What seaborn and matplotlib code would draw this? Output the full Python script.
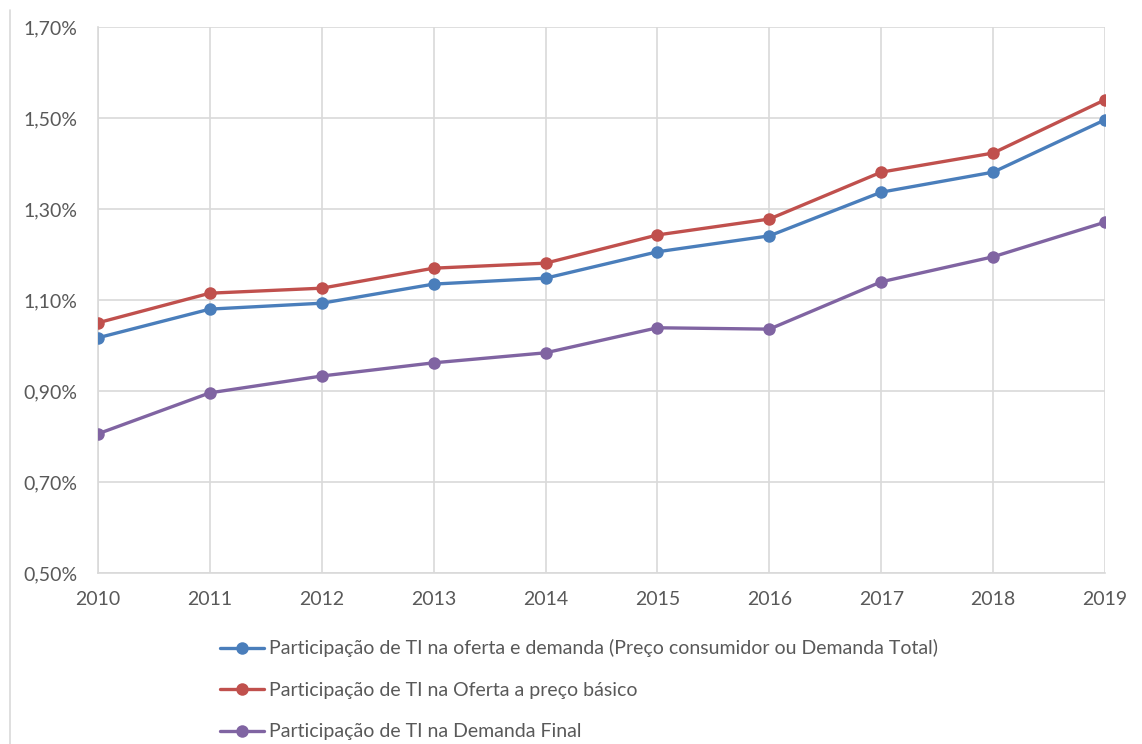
import pandas as pd
import matplotlib.pyplot as plt
import matplotlib.ticker as mticker
from matplotlib.lines import Line2D
import seaborn as sns

anos = [2010, 2011, 2012, 2013, 2014, 2015, 2016, 2017, 2018, 2019]

# valores em %
oferta_demanda = [1.017, 1.080, 1.093, 1.135, 1.148, 1.206, 1.241, 1.337, 1.381, 1.496]
oferta_basico = [1.050, 1.115, 1.126, 1.170, 1.181, 1.243, 1.278, 1.381, 1.423, 1.540]
demanda_final = [0.806, 0.896, 0.933, 0.962, 0.984, 1.039, 1.036, 1.140, 1.195, 1.271]

series = [
    'Participação de TI na oferta e demanda (Preço consumidor ou Demanda Total)',
    'Participação de TI na Oferta a preço básico',
    'Participação de TI na Demanda Final',
]
cores = ['#4A7EBB', '#C0504D', '#8064A2']


def gerar_grafico():
    df = pd.DataFrame({
        'Ano': anos * 3,
        'Valor': oferta_demanda + oferta_basico + demanda_final,
        'Serie': [series[0]] * len(anos) + [series[1]] * len(anos) + [series[2]] * len(anos),
    })

    sns.set_theme(style="white")
    plt.rcParams['font.family'] = ['Lato', 'DejaVu Sans']
    cinza = '#595959'
    grade = '#D9D9D9'

    fig = plt.figure(figsize=(11.42, 7.44), dpi=100)
    ax = fig.add_axes([0.0858, 0.2298, 0.8818, 0.7339])

    sns.lineplot(data=df, x='Ano', y='Valor', hue='Serie', hue_order=series,
                 palette=cores, marker='o', markersize=9, markeredgewidth=0,
                 linewidth=2.4, ax=ax, legend=False, zorder=3)

    ax.set_xlim(2010, 2019)
    ax.set_ylim(0.5, 1.7)
    ax.set_xticks(anos)
    ax.set_yticks([0.5, 0.7, 0.9, 1.1, 1.3, 1.5, 1.7])
    ax.yaxis.set_major_formatter(mticker.FuncFormatter(lambda v, p: f'{v:.2f}%'.replace('.', ',')))
    ax.grid(True, color=grade, linewidth=1.2)
    ax.set_axisbelow(True)
    for lado in ['top', 'right']:
        ax.spines[lado].set_visible(False)
    for lado in ['left', 'bottom']:
        ax.spines[lado].set_color(grade)
        ax.spines[lado].set_linewidth(1.2)
    ax.tick_params(axis='both', length=0, labelsize=14, labelcolor=cinza)
    ax.tick_params(axis='x', pad=13)
    ax.tick_params(axis='y', pad=15)
    ax.set_xlabel('')
    ax.set_ylabel('')

    handles = [Line2D([0], [0], color=c, linewidth=2.4, marker='o', markersize=9,
                      markeredgewidth=0) for c in cores]
    fig.legend(handles, series, loc='upper left', bbox_to_anchor=(0.1855, 0.151),
               frameon=False, fontsize=14, labelcolor=cinza, handlelength=2.3,
               handletextpad=0.25, labelspacing=1.26, borderaxespad=0)

    # borda esquerda do quadro original
    fig.add_artist(Line2D([10 / 1142, 10 / 1142], [0, 1 - 10 / 744], color=grade,
                          linewidth=1.2, transform=fig.transFigure))

    fig.savefig('out.png', dpi=100)


if __name__ == "__main__":
    gerar_grafico()
